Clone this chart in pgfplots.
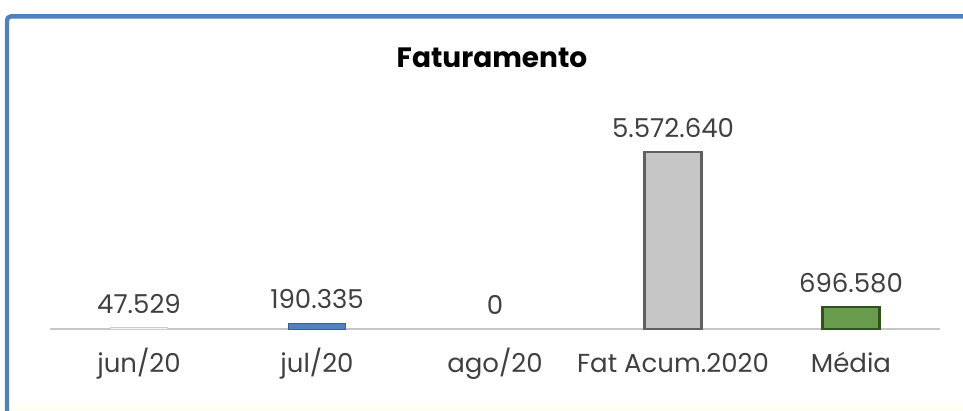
\documentclass[border=0pt]{standalone}
\usepackage{fontspec}
\setmainfont{Poppins}
\usepackage{pgfplots}
\pgfplotsset{compat=1.18}

\definecolor{frameblue}{RGB}{79,129,189}
\definecolor{barblue}{RGB}{79,129,189}
\definecolor{bargreen}{RGB}{79,138,44}
\definecolor{txtgray}{RGB}{64,64,64}

\begin{document}
\begin{tikzpicture}
\useasboundingbox (0,0) rectangle (481.5pt,205.5pt);
\fill[yellow!4] (0,0) rectangle (481.5pt,4pt);
\draw[frameblue, line width=2.2pt, rounded corners=2pt] (3.5pt,0) -- (3.5pt,197.3pt) -- (482pt,197.3pt);

\begin{axis}[
    at={(25pt,41pt)}, anchor=south west,
    scale only axis,
    width=445pt, height=114.5pt,
    xmin=-0.5, xmax=4.5,
    ymin=0, ymax=7.2e6,
    axis x line=bottom,
    axis y line=none,
    axis line style={gray!45, line width=1pt, -},
    xtick={0,1,2,3,4},
    xticklabels={jun/20, jul/20, ago/20, Fat Acum.2020, Média},
    major tick length=0pt,
    xticklabel style={font=\fontsize{13}{15}\selectfont, text=txtgray, anchor=base, yshift=-22pt},
    ybar, bar width=28.5pt,
    nodes near coords,
    point meta=explicit symbolic,
    every node near coord/.append style={font=\fontsize{13}{15}\selectfont, text=txtgray, anchor=base, yshift=7pt},
    clip=false
]
\addplot[bar shift=0pt, fill=gray!8, draw=gray!40] coordinates {(0,47529) [47.529]};
\addplot[bar shift=0pt, fill=barblue, draw=barblue!75!black] coordinates {(1,190335) [190.335]};
\addplot[bar shift=0pt, draw=none, fill=none] coordinates {(2,0) [0]};
\addplot[bar shift=0pt, fill=gray!45, draw=gray!75!black, line width=1.1pt] coordinates {(3,5572640) [5.572.640]};
\addplot[bar shift=0pt, fill=bargreen!85!white, draw=bargreen!60!black, line width=1.1pt] coordinates {(4,696580) [696.580]};
\end{axis}

\node[font=\bfseries\fontsize{14}{17}\selectfont] at (246pt,176.5pt) {Faturamento};
\end{tikzpicture}
\end{document}
